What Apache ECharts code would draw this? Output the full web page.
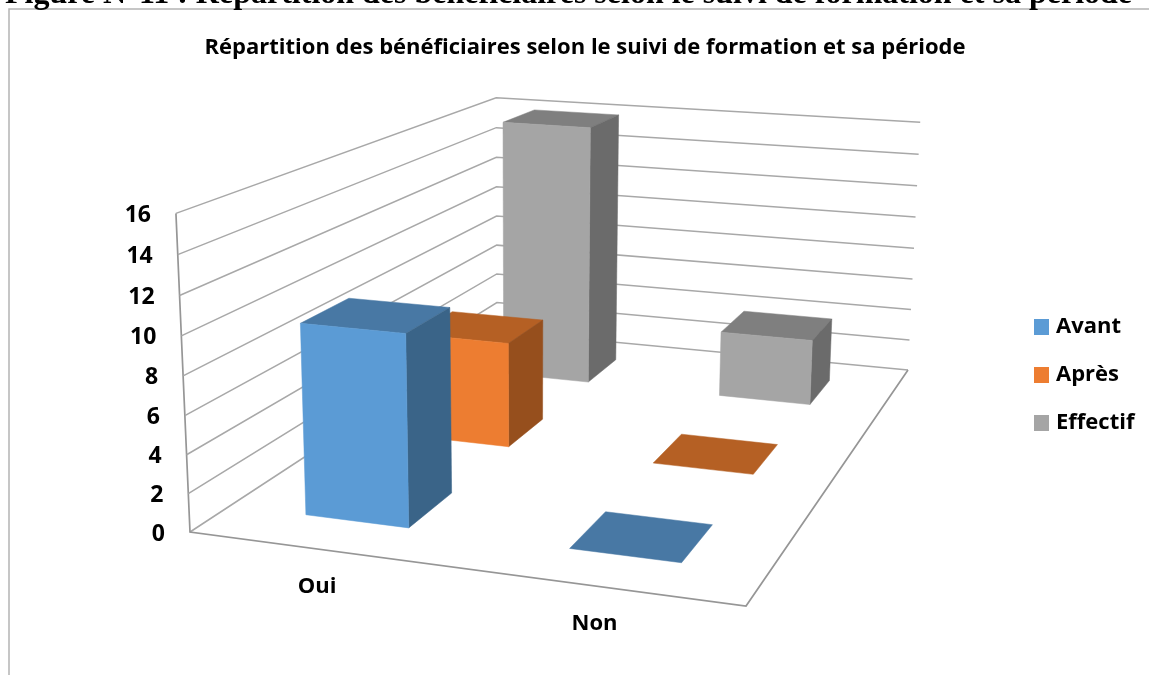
<!DOCTYPE html>
<html><head><meta charset="utf-8">
<style>html,body{margin:0;padding:0;background:#fff}#c{width:1149px;height:675px}</style>
<script src="https://cdn.jsdelivr.net/npm/echarts@6/dist/echarts.min.js"></script>
</head><body><div id="c"></div>
<script>
const categories = ['Oui', 'Non'];
const avant = [10, 0];
const apres = [6, 0];
const effectif = [16, 4];
const tickValues = [0, 2, 4, 6, 8, 10, 12, 14, 16];
const seriesNames = ['Avant', 'Après', 'Effectif'];
const pageHeading = 'Figure N°11 : Répartition des bénéficiaires selon le suivi de formation et sa période';
const chartTitle = 'Répartition des bénéficiaires selon le suivi de formation et sa période';

// Perspective box of the 3D chart, in pixels
const FL = [190, 532], FR = [746, 606], BR = [908, 370], BL = [497, 331];
const FLt = [175, 212], BLt = [497, 100], BRt = [920, 121];
const UI = '"Open Sans", Lato, sans-serif';

const dx1 = FR[0] - BR[0], dx2 = BL[0] - BR[0], sx = FL[0] - FR[0] + BR[0] - BL[0];
const dy1 = FR[1] - BR[1], dy2 = BL[1] - BR[1], sy = FL[1] - FR[1] + BR[1] - BL[1];
const den = dx1 * dy2 - dx2 * dy1;
const g = (sx * dy2 - dx2 * sy) / den, h = (dx1 * sy - sx * dy1) / den;
const a = FR[0] - FL[0] + g * FR[0], b = BL[0] - FL[0] + h * BL[0], c = FL[0];
const d = FR[1] - FL[1] + g * FR[1], e = BL[1] - FL[1] + h * BL[1], f = FL[1];
// vertical term fitted on the three visible wall corners
const tops = [[0, 0, FLt], [0, 1, BLt], [1, 1, BRt]].map(([u, w, p]) => {
  const D = g * u + h * w + 1;
  return { X: p[0], Y: p[1], rx: p[0] * D - (a * u + b * w + c), ry: p[1] * D - (d * u + e * w + f) };
});
const mean = k => tops.reduce((s, t) => s + t[k], 0) / tops.length;
const mX = mean('X'), mY = mean('Y'), mrx = mean('rx'), mry = mean('ry');
let cov = 0, vr = 0;
tops.forEach(t => {
  cov += (t.X - mX) * (t.rx - mrx) + (t.Y - mY) * (t.ry - mry);
  vr += (t.X - mX) * (t.X - mX) + (t.Y - mY) * (t.Y - mY);
});
const K = -cov / vr, Bx = mrx + K * mX, By = mry + K * mY;
function project(u, v, w) {
  const D = g * u + h * w + 1 + K * v;
  return [(a * u + b * w + c + Bx * v) / D, (d * u + e * w + f + By * v) / D];
}
const GRID = { left: 100, top: 100, width: 800, height: 400 };
const toV = (api, val) => (GRID.top + GRID.height - api.coord([0, val])[1]) / GRID.height;
const toU = (api, catIdx) => (api.coord([catIdx, 0])[0] - GRID.left) / GRID.width;

const GAP_U = 0.3, GAP_W = 0.3;   // half of the free band on each side

function barSeries(name, values, depthIdx, colors, z) {
  return {
    type: 'custom', name, coordinateSystem: 'cartesian2d', z,
    itemStyle: { color: colors[0] },
    data: values.map((v, i) => [i, v]),
    encode: { x: 0, y: 1 },
    renderItem(params, api) {
      const cu = toU(api, api.value(0));
      const band = api.size([1, 0])[0] / GRID.width;
      const u0 = cu - band * (0.5 - GAP_U), u1 = cu + band * (0.5 - GAP_U);
      const w0 = (depthIdx + GAP_W) / 3, w1 = (depthIdx + 1 - GAP_W) / 3;
      const top = toV(api, api.value(1));
      const face = (pts, fill) => ({
        type: 'polygon', shape: { points: pts }, style: { fill, stroke: fill, lineWidth: 0.5 }
      });
      const kids = [];
      kids.push(face([project(u0, top, w0), project(u1, top, w0), project(u1, top, w1), project(u0, top, w1)], colors[1]));
      if (top > 0) {
        kids.push(face([project(u1, 0, w0), project(u1, 0, w1), project(u1, top, w1), project(u1, top, w0)], colors[2]));
        kids.push(face([project(u0, 0, w0), project(u1, 0, w0), project(u1, top, w0), project(u0, top, w0)], colors[0]));
      }
      return { type: 'group', children: kids };
    }
  };
}

const lineCol = '#a8a8a8';
const frameSeries = {
  type: 'custom', name: 'frame', coordinateSystem: 'cartesian2d', z: 1, silent: true,
  data: tickValues.map(v => [0, v]),
  encode: { x: 0, y: 1 },
  renderItem(params, api) {
    const val = api.value(1), v = toV(api, val);
    const kids = [{
      type: 'polyline',
      shape: { points: [project(0, v, 0), project(0, v, 1), project(1, v, 1)] },
      style: { stroke: lineCol, lineWidth: 1.5, fill: null }
    }];
    if (params.dataIndex === 0) {
      kids.push({ type: 'polyline', shape: { points: [project(0, 1, 0), project(0, 0, 0), project(1, 0, 0), project(1, 0, 1)] },
        style: { stroke: '#969696', lineWidth: 1.7, fill: null } });
    }
    const p = project(0, v, 0);
    kids.push({ type: 'text', style: { x: p[0] - 25, y: p[1] + 2, text: String(val), textAlign: 'right', textVerticalAlign: 'middle',
      font: 'bold 23px ' + UI, fill: '#000' } });
    return { type: 'group', children: kids };
  }
};
const catLabelSeries = {
  type: 'custom', name: 'categories', coordinateSystem: 'cartesian2d', z: 1, silent: true,
  data: categories.map((n, i) => [i, 0]),
  encode: { x: 0, y: 1 },
  renderItem(params, api) {
    const p = project(toU(api, api.value(0)), 0, 0);
    return { type: 'text', style: { x: p[0] - 3, y: p[1] + 37, text: categories[params.dataIndex], textAlign: 'center',
      textVerticalAlign: 'middle', font: 'bold 22px ' + UI, fill: '#000' } };
  }
};

const chart = echarts.init(document.getElementById('c'), null, { renderer: 'canvas' });
chart.setOption({
  animation: false,
  backgroundColor: '#fff',
  title: { text: chartTitle, left: 580, top: 32, textAlign: 'center',
    textStyle: { fontFamily: UI, fontWeight: 'bold', fontSize: 22, color: '#000' } },
  legend: { data: seriesNames, orient: 'vertical', left: 1034, top: 316, padding: 0, itemWidth: 15, itemHeight: 16, itemGap: 26, icon: 'rect',
    selectedMode: false, textStyle: { fontFamily: UI, fontWeight: 'bold', fontSize: 22, lineHeight: 16, color: '#000', padding: [0, 0, 0, 2] } },
  grid: GRID,
  xAxis: { type: 'category', data: categories, show: false },
  yAxis: { type: 'value', min: 0, max: 16, interval: 2, show: false },
  graphic: [
    { type: 'polyline', silent: true, shape: { points: [[9, 675], [9, 9], [1149, 9]] }, style: { stroke: '#b4b4b4', lineWidth: 1.5, fill: null } },
    { type: 'text', silent: true, style: { x: 5, y: -21, text: pageHeading, font: 'bold 32px "Liberation Serif", serif', fill: '#000' } }
  ],
  series: [
    frameSeries, catLabelSeries,
    barSeries('Effectif', effectif, 2, ['#a5a5a5', '#7f7f7f', '#6b6b6b'], 2),
    barSeries('Après', apres, 1, ['#ed7d31', '#b56024', '#964f1d'], 3),
    barSeries('Avant', avant, 0, ['#5b9bd5', '#4878a4', '#3a6488'], 4)
  ]
});
</script></body></html>
